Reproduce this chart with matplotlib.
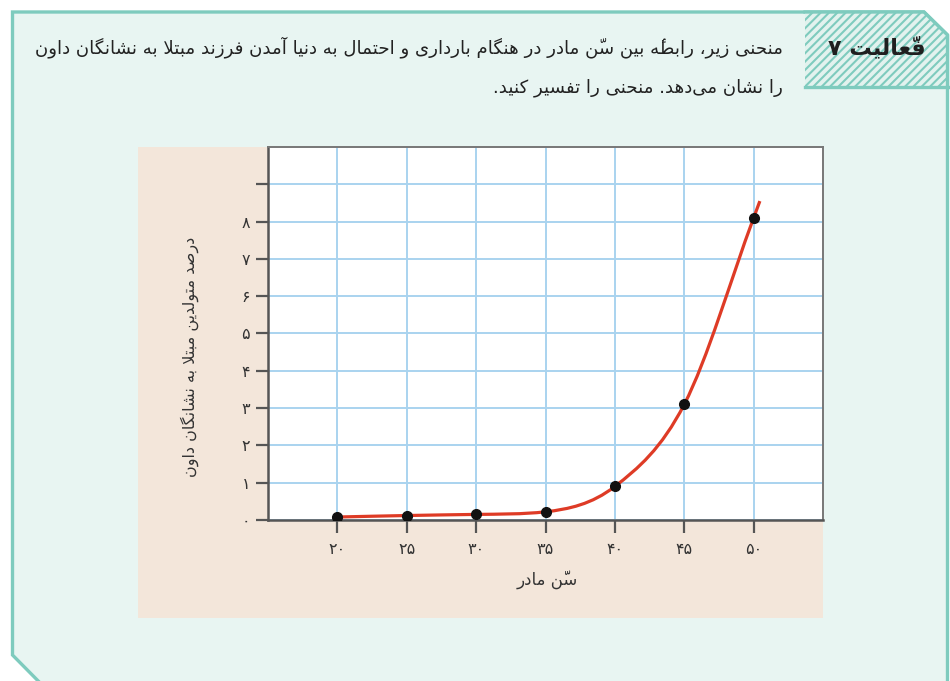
import matplotlib
matplotlib.use("Agg")
import matplotlib.pyplot as plt
from matplotlib.patches import Polygon, Rectangle, PathPatch
from matplotlib.path import Path

# داده‌ها
ages = [20, 25, 30, 35, 40, 45, 50]
percent = [0.08, 0.12, 0.15, 0.22, 0.9, 3.1, 8.1]
x_ticks = [20, 25, 30, 35, 40, 45, 50]
y_ticks = [0, 1, 2, 3, 4, 5, 6, 7, 8, 9]
y_tick_labels = ["0", "1", "2", "3", "4", "5", "6", "7", "8", ""]

title = "فعّالیت ۷"
line1 = "منحنی زیر، رابطهٔ بین سنّ مادر در هنگام بارداری و احتمال به دنیا آمدن فرزند مبتلا به نشانگان داون"
line2 = "را نشان می\u200cدهد. منحنی را تفسیر کنید."
xlabel = "سنّ مادر"
ylabel = "درصد متولدین مبتلا به نشانگان داون"

TEAL = "#7ecbbe"
MINT = "#e8f5f2"
BEIGE = "#f3e6da"
GRID = "#a9d3ef"
RED = "#de3b26"

# شکل‌دهی ساده حروف فارسی (matplotlib خودش اتصال حروف را انجام نمی‌دهد)
DUAL = {'ب': 0xFE8F, 'ت': 0xFE95, 'ث': 0xFE99, 'ج': 0xFE9D, 'ح': 0xFEA1, 'خ': 0xFEA5,
        'س': 0xFEB1, 'ش': 0xFEB5, 'ص': 0xFEB9, 'ض': 0xFEBD, 'ط': 0xFEC1, 'ظ': 0xFEC5,
        'ع': 0xFEC9, 'غ': 0xFECD, 'ف': 0xFED1, 'ق': 0xFED5, 'ل': 0xFEDD, 'م': 0xFEE1,
        'ن': 0xFEE5, 'ه': 0xFEE9, 'ک': 0xFB8E, 'گ': 0xFB92, 'ی': 0xFBFC, 'پ': 0xFB56,
        'چ': 0xFB7A}
RIGHT = {'ا': 0xFE8D, 'آ': 0xFE81, 'د': 0xFEA9, 'ذ': 0xFEAB, 'ر': 0xFEAD, 'ز': 0xFEAF,
         'و': 0xFEED, 'ژ': 0xFB8A}
LAMALEF = {'ا': 0xFEFB, 'آ': 0xFEF5}


def is_mark(c):
    return '\u064b' <= c <= '\u065f' or c == '\u0670'


def is_digit(c):
    return '\u06f0' <= c <= '\u06f9' or c.isdigit()


def shape(text):
    chars = list(text)
    n = len(chars)
    out = []
    i = 0
    while i < n:
        c = chars[i]
        if is_mark(c):
            out.append(c)
            i += 1
            continue
        j = i - 1
        while j >= 0 and is_mark(chars[j]):
            j -= 1
        prev = chars[j] if j >= 0 else None
        k = i + 1
        while k < n and is_mark(chars[k]):
            k += 1
        nxt = chars[k] if k < n else None
        joins_prev = prev in DUAL and (c in DUAL or c in RIGHT)
        if c == 'ل' and nxt in LAMALEF:
            out.append(chr(LAMALEF[nxt] + (1 if joins_prev else 0)))
            out.extend(chars[i + 1:k])
            i = k + 1
            continue
        if c in DUAL:
            joins_next = nxt in DUAL or nxt in RIGHT
            form = 3 if (joins_prev and joins_next) else 1 if joins_prev else 2 if joins_next else 0
            out.append(chr(DUAL[c] + form))
        elif c in RIGHT:
            out.append(chr(RIGHT[c] + (1 if joins_prev else 0)))
        elif c != '\u200c':
            out.append(c)
        i += 1
    # ترتیب دیداری راست به چپ
    clusters = []
    for c in out:
        if clusters and is_mark(c):
            clusters[-1] += c
        elif clusters and is_digit(c) and is_digit(clusters[-1][-1]):
            clusters[-1] += c
        else:
            clusters.append(c)
    return "".join(reversed(clusters))


def fa_digits(s):
    return s.translate(str.maketrans("0123456789", "۰۱۲۳۴۵۶۷۸۹"))


plt.rcParams['font.family'] = ['DejaVu Sans']
plt.rcParams['hatch.linewidth'] = 1.5

W, H = 950, 681
fig = plt.figure(figsize=(W / 100, H / 100), dpi=100)
fig.patch.set_facecolor("white")

# لایه زمینه با مختصات پیکسلی
bg = fig.add_axes([0, 0, 1, 1])
bg.set_xlim(0, W)
bg.set_ylim(H, 0)
bg.axis("off")

box = Polygon([(12.5, 12), (924, 12), (947.5, 35), (947.5, 700), (57, 700), (12.5, 655)],
              closed=True, facecolor=MINT, edgecolor=TEAL, lw=2.4, zorder=1)
bg.add_patch(box)

header = Polygon([(805, 12), (924, 12), (947.5, 35), (947.5, 87), (805, 87)],
                 closed=True, facecolor="#e2f2ee", edgecolor=TEAL, hatch="////", lw=0, zorder=2)
bg.add_patch(header)
bg.plot([805, 947.5], [87, 87], color=TEAL, lw=2.4, zorder=3)
bg.plot([805, 924, 947.5, 947.5], [12, 12, 35, 87], color=TEAL, lw=2.4, zorder=3)

bg.text(877, 47, shape(title), fontsize=16, fontweight="bold", color="#1f1f1f",
        ha="center", va="center", zorder=4)
bg.text(783, 47, shape(line1), fontsize=13.1, color="#222222", ha="right", va="center", zorder=4)
bg.text(783, 88, shape(line2), fontsize=13.1, color="#222222", ha="right", va="center", zorder=4)

bg.add_patch(Rectangle((138, 147), 823 - 138, 618 - 147, facecolor=BEIGE, edgecolor="none", zorder=2))

bg.text(190, 357, shape(ylabel), fontsize=11.5, color="#333333", rotation=90,
        ha="center", va="center", zorder=4)
bg.text(547, 580, shape(xlabel), fontsize=12, color="#333333", ha="center", va="center", zorder=4)

# نمودار
ax = fig.add_axes([268 / W, (H - 520) / H, (823 - 268) / W, (520 - 147) / H])
ax.set_facecolor("white")
ax.set_xlim(15, 55)
ax.set_ylim(0, 10)
ax.set_xticks(x_ticks)
ax.set_xticklabels([fa_digits(str(v)) for v in x_ticks])
ax.set_yticks(y_ticks)
ax.set_yticklabels([fa_digits(s) for s in y_tick_labels])
ax.grid(True, color=GRID, lw=1.4, zorder=0)
ax.set_axisbelow(True)
ax.tick_params(direction="out", length=9, width=1.6, color="#555555",
               labelsize=11.5, labelcolor="#333333")
ax.tick_params(axis="x", pad=7)
ax.tick_params(axis="y", pad=4)
for side in ["left", "bottom"]:
    ax.spines[side].set_color("#555555")
    ax.spines[side].set_linewidth(1.8)
for side in ["top", "right"]:
    ax.spines[side].set_color("#777777")
    ax.spines[side].set_linewidth(1.4)

# منحنی نرم (کتمول-رام به بزیه، با محدودکردن شیب برای جلوگیری از فرورفتگی)
nx = len(ages)
slopes = []
for i in range(nx):
    if i == 0:
        s = (percent[1] - percent[0]) / (ages[1] - ages[0])
    elif i == nx - 1:
        s = (percent[-1] - percent[-2]) / (ages[-1] - ages[-2])
    else:
        s = (percent[i + 1] - percent[i - 1]) / (ages[i + 1] - ages[i - 1])
    slopes.append(s)
for i in range(nx - 1):
    d = (percent[i + 1] - percent[i]) / (ages[i + 1] - ages[i])
    a, b = slopes[i] / d, slopes[i + 1] / d
    if a * a + b * b > 9:
        t = 3 / (a * a + b * b) ** 0.5
        slopes[i] = t * a * d
        slopes[i + 1] = t * b * d
verts = [(ages[0], percent[0])]
codes = [Path.MOVETO]
for i in range(nx - 1):
    h = (ages[i + 1] - ages[i]) / 3
    verts += [(ages[i] + h, percent[i] + slopes[i] * h),
              (ages[i + 1] - h, percent[i + 1] - slopes[i + 1] * h),
              (ages[i + 1], percent[i + 1])]
    codes += [Path.CURVE4] * 3
tail = 0.45
verts.append((ages[-1] + tail, percent[-1] + slopes[-1] * tail))
codes.append(Path.LINETO)
ax.add_patch(PathPatch(Path(verts, codes), facecolor="none", edgecolor=RED, lw=2.3,
                       capstyle="butt", zorder=3))
ax.plot(ages, percent, "o", color="#111111", markersize=7, zorder=4)

fig.savefig("out.png", dpi=100)
